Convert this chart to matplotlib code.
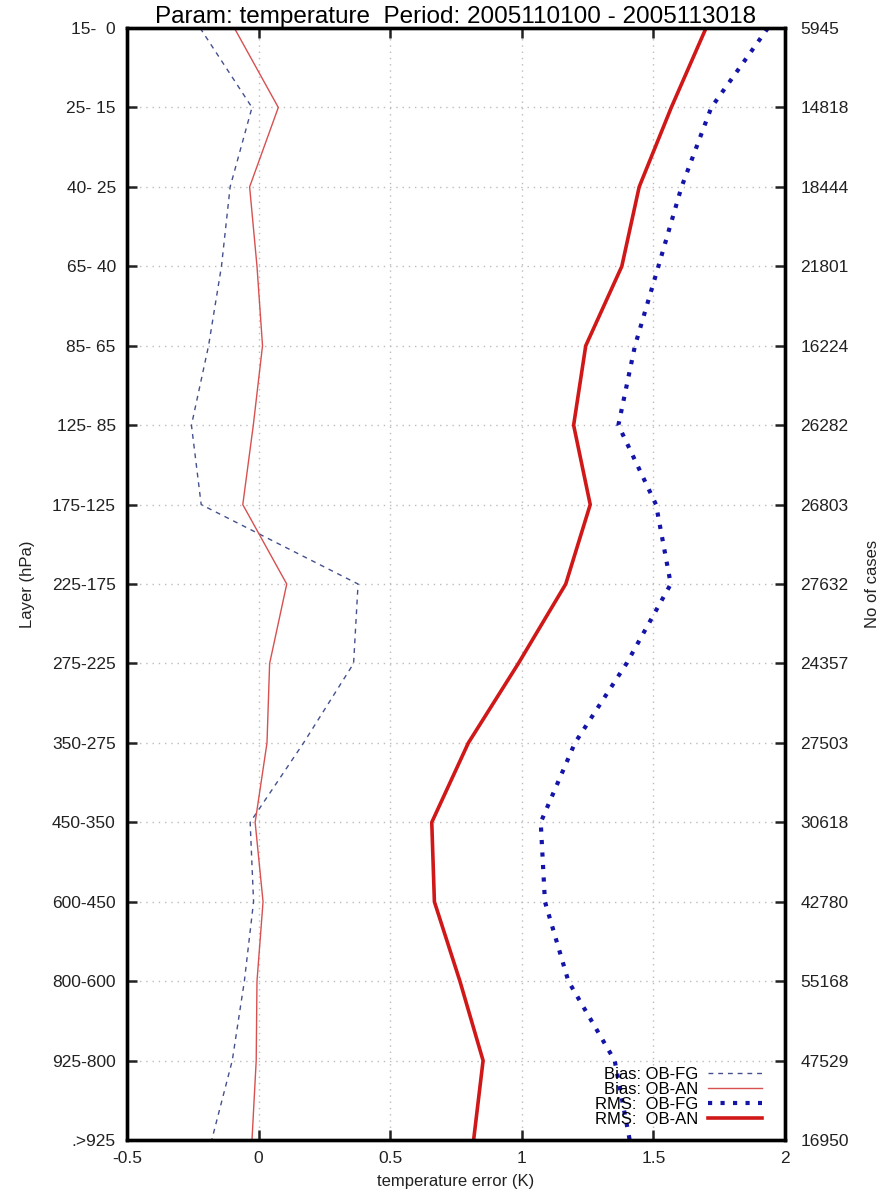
import matplotlib
matplotlib.use("Agg")
import matplotlib.pyplot as plt
import numpy as np

plt.rcParams['font.family'] = ['Liberation Sans', 'DejaVu Sans']

# layers from top of atmosphere down
layers = ["15-  0", "25- 15", "40- 25", "65- 40", "85- 65", "125- 85", "175-125",
          "225-175", "275-225", "350-275", "450-350", "600-450", "800-600",
          "925-800", ".>925"]
ncases = [5945, 14818, 18444, 21801, 16224, 26282, 26803, 27632, 24357,
          27503, 30618, 42780, 55168, 47529, 16950]

bias_fg = [-0.222, -0.025, -0.108, -0.141, -0.190, -0.255, -0.218, 0.378,
           0.361, 0.171, -0.032, -0.019, -0.054, -0.100, -0.178]
bias_an = [-0.092, 0.075, -0.034, -0.006, 0.015, -0.020, -0.060, 0.107,
           0.042, 0.032, -0.013, 0.017, -0.006, -0.009, -0.025]
rms_fg = [1.935, 1.720, 1.607, 1.519, 1.430, 1.367, 1.510, 1.566,
          1.398, 1.202, 1.072, 1.088, 1.177, 1.353, 1.410]
rms_an = [1.700, 1.568, 1.446, 1.380, 1.243, 1.197, 1.260, 1.167,
          0.987, 0.797, 0.658, 0.668, 0.765, 0.853, 0.817]

lev = np.arange(len(layers))
txt = '#222222'

fig = plt.figure(figsize=(8.86, 11.93), dpi=100)
ax = fig.add_axes([0.1433, 0.0444, 0.7427, 0.9321])

ax.plot(bias_fg, lev, color='#45508e', lw=1.0, dashes=(3.5, 3.5), label='Bias: OB-FG')
ax.plot(bias_an, lev, color='#d85050', lw=1.0, label='Bias: OB-AN')
ax.plot(rms_fg, lev, color='#1414a8', lw=3.0, dashes=(1, 2.0), label='RMS:  OB-FG')
ax.plot(rms_an, lev, color='#d01818', lw=2.6, label='RMS:  OB-AN')

ax.set_xlim(-0.5, 2)
ax.set_ylim(lev[-1], lev[0])
ax.set_xticks([-0.5, 0, 0.5, 1, 1.5, 2])
ax.set_xticklabels(['-0.5', '0', '0.5', '1', '1.5', '2'])
ax.set_yticks(lev)
ax.set_yticklabels(layers)
ax.grid(True, color='#bcbcbc', lw=1.0, linestyle=(0, (1, 3.5)))

ax.tick_params(axis='x', direction='in', length=7, width=1.8, top=True,
               labelsize=12.5, pad=8, colors=txt)
ax.tick_params(axis='y', direction='in', length=7, width=1.8,
               labelsize=12.5, pad=8, colors=txt)
for s in ax.spines.values():
    s.set_linewidth(2.4)

ax.set_xlabel('temperature error (K)', fontsize=12, labelpad=6, color=txt)
ax.set_ylabel('Layer (hPa)', fontsize=12, labelpad=12, color=txt)
ax.set_title('Param: temperature  Period: 2005110100 - 2005113018',
             fontsize=17.5, pad=1)

ax2 = ax.twinx()
ax2.set_ylim(ax.get_ylim())
ax2.set_yticks(lev)
ax2.set_yticklabels([str(n) for n in ncases])
ax2.tick_params(axis='y', direction='in', length=7, width=1.8,
                labelsize=12.5, pad=11, colors=txt)
ax2.set_ylabel('No of cases', fontsize=12, labelpad=12, color=txt)
for s in ax2.spines.values():
    s.set_linewidth(2.4)

leg = ax.legend(loc='lower right', bbox_to_anchor=(0.985, 0.0), frameon=False,
                markerfirst=False, fontsize=12, handlelength=3.2,
                handletextpad=0.6, labelspacing=0.0, borderpad=0.3)

fig.savefig('out.png', dpi=100)
